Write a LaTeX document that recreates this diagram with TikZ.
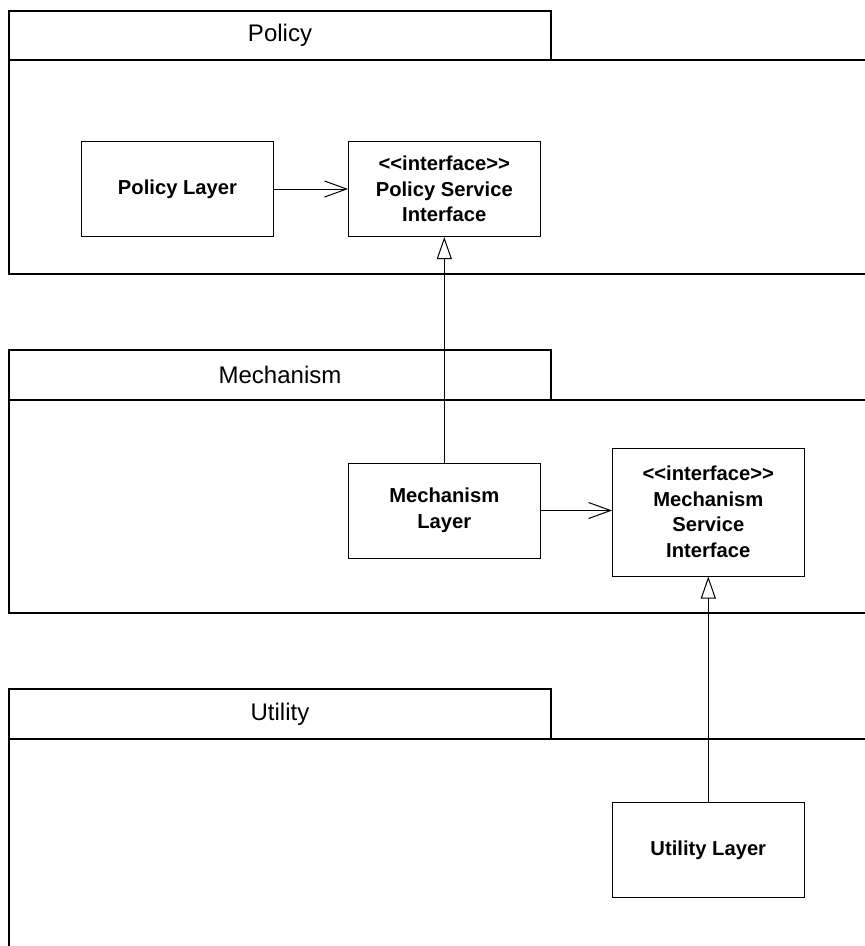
\documentclass[tikz,border=0pt]{standalone}
\usepackage{fontspec}
\setmainfont{Liberation Sans}
\usetikzlibrary{arrows.meta}

\tikzset{
  pkgline/.style={line width=2pt, draw=black},
  pkglabel/.style={font=\fontsize{24}{28}\selectfont, inner sep=0pt},
  classbox/.style={draw=black, line width=1pt, fill=white, align=center,
    font=\fontsize{20.2}{25.5}\selectfont\bfseries, inner sep=2pt},
  depends/.style={line width=1pt, -{Straight Barb[length=22pt,width=16pt,line width=1pt]}},
  realizes/.style={line width=1pt, -{Triangle[open,length=22pt,width=15pt,line width=1pt,fill=white]}},
}

% angle-bracket stereotype without font ligatures
\newcommand{\stereo}[1]{<\kern0pt<#1>\kern0pt>}

\begin{document}
\begin{tikzpicture}[x=1pt,y=-1pt]
  \useasboundingbox (0,0) rectangle (865,946);
  \clip (0,0) rectangle (865,946);

  % ---- packages: tab + body (bodies run off the right / bottom edge)
  \draw[pkgline] (9,10.5) rectangle (551,59.5);
  \draw[pkgline] (9,59.5) rectangle (885,274);
  \node[pkglabel] (pPolicy) at (280,35) {Policy};

  \draw[pkgline] (9,350) rectangle (551,399.5);
  \draw[pkgline] (9,399.5) rectangle (885,612.5);
  \node[pkglabel] (pMech) at (280,375) {Mechanism};

  \draw[pkgline] (9,689) rectangle (551,738.5);
  \draw[pkgline] (9,738.5) rectangle (885,980);
  \node[pkglabel] (pUtil) at (280,714) {Utility};

  % ---- classes
  \node[classbox, minimum width=192pt, minimum height=95pt] (pl) at (177.5,189) {Policy Layer};
  \node[classbox, minimum width=191.5pt, minimum height=95pt] (psi) at (444.3,189)
    {\stereo{interface}\\Policy Service\\Interface};
  \node[classbox, minimum width=192.5pt, minimum height=95pt] (ml) at (444.3,510.5)
    {Mechanism\\Layer};
  \node[classbox, minimum width=191.5pt, minimum height=128pt] (msi) at (708.3,512)
    {\stereo{interface}\\Mechanism\\Service\\Interface};
  \node[classbox, minimum width=191.5pt, minimum height=95pt] (ul) at (708.3,850)
    {Utility Layer};

  % ---- dependencies
  \draw[depends] (pl.east) -- (psi.west);
  \draw[depends] (ml.east) -- (ml.east -| msi.west);

  % ---- realizations
  \draw[realizes] (ml.north) -- (psi.south);
  \draw[realizes] (ul.north) -- (msi.south);
\end{tikzpicture}
\end{document}
